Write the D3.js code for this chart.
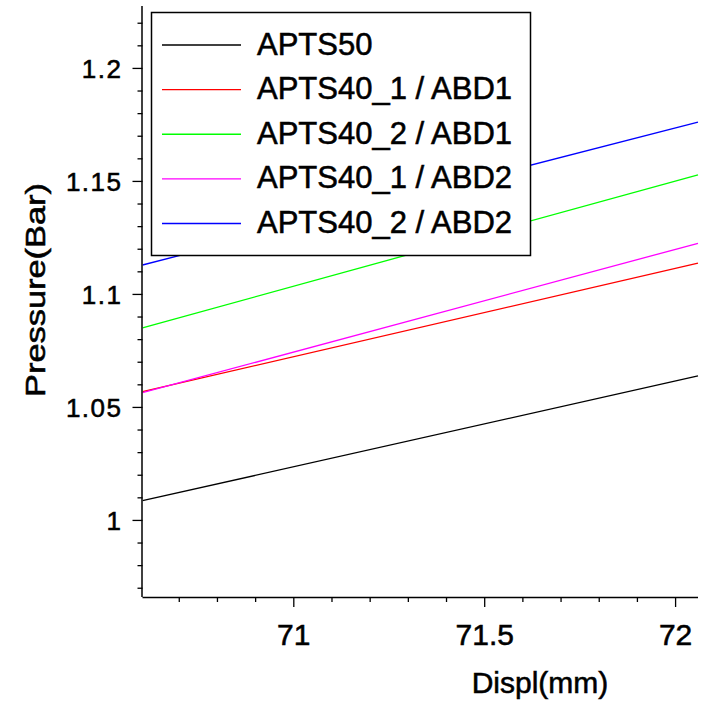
<!DOCTYPE html>
<html>
<head>
<meta charset="utf-8">
<script src="https://cdn.jsdelivr.net/npm/d3@7"></script>
<style>
  html, body { margin: 0; padding: 0; background: #fff; }
  svg { display: block; }
  text { font-family: "Liberation Sans", Arial, sans-serif; fill: #000; stroke: #000; stroke-width: 0.55px; }
</style>
</head>
<body>
<div id="chart"></div>
<script>
// ---- data ----
const seriesNames = ["APTS50", "APTS40_1 / ABD1", "APTS40_2 / ABD1", "APTS40_1 / ABD2", "APTS40_2 / ABD2"];
const seriesColors = ["#000000", "#ff0000", "#00ff00", "#ff00ff", "#0000ff"];
const displ = [70.605, 72.06];
const apts50 = [1.0085, 1.0637];
const apts40_1_abd1 = [1.0568, 1.1136];
const apts40_2_abd1 = [1.0850, 1.1527];
const apts40_1_abd2 = [1.0563, 1.1224];
const apts40_2_abd2 = [1.1128, 1.1760];
const xTicks = [71, 71.5, 72];
const xTickLabels = ["71", "71.5", "72"];
const yTicks = [1, 1.05, 1.1, 1.15, 1.2];
const yTickLabels = ["1", "1.05", "1.1", "1.15", "1.2"];
const xDomain = [70.605, 72.06];
const yDomain = [0.9659, 1.2274];

const seriesValues = [apts50, apts40_1_abd1, apts40_2_abd1, apts40_1_abd2, apts40_2_abd2];

const W = 708, H = 702;
const L = 142.5, R = 698, T = 6, B = 597;

const svg = d3.select("#chart").append("svg").attr("width", W).attr("height", H);

const x = d3.scaleLinear().domain(xDomain).range([L, R]);
const y = d3.scaleLinear().domain(yDomain).range([B, T]);

svg.append("defs").append("clipPath").attr("id", "plotclip")
  .append("rect").attr("x", L).attr("y", T).attr("width", R - L + 2).attr("height", B - T);

// lines
const line = d3.line().x(d => x(d[0])).y(d => y(d[1]));
const g = svg.append("g").attr("clip-path", "url(#plotclip)");
seriesValues.forEach((vals, i) => {
  g.append("path")
    .datum(displ.map((d, j) => [d, vals[j]]))
    .attr("d", line)
    .attr("fill", "none")
    .attr("stroke", seriesColors[i])
    .attr("stroke-width", 1.3);
});

// minor ticks
const xMinor = d3.range(70.7, 72.05, 0.1).map(v => +v.toFixed(2)).filter(v => !xTicks.some(t => Math.abs(t - v) < 1e-6));
const yMinor = d3.range(0.97, 1.225, 0.01).map(v => +v.toFixed(3)).filter(v => !yTicks.some(t => Math.abs(t - v) < 1e-6));

// x axis
const xAxis = svg.append("g").attr("transform", `translate(0,${B})`)
  .call(d3.axisBottom(x).tickValues(xTicks).tickFormat((d, i) => xTickLabels[i]).tickSize(10).tickSizeOuter(0));
xAxis.select(".domain").attr("stroke", "#000").attr("stroke-width", 1.5).attr("d", `M${L},0.5H${R}`);
xAxis.selectAll(".tick line").attr("stroke", "#000").attr("stroke-width", 1.3);
xAxis.selectAll(".tick text").attr("font-size", 30).attr("font-family", "Liberation Sans, Arial, sans-serif").attr("y", 48).attr("dy", 0).attr("fill", "#000");
svg.append("g").attr("transform", `translate(0,${B})`)
  .call(d3.axisBottom(x).tickValues(xMinor).tickFormat("").tickSize(5).tickSizeOuter(0))
  .call(s => { s.select(".domain").remove(); s.selectAll(".tick line").attr("stroke", "#000").attr("stroke-width", 1.3); });

// y axis
const yAxis = svg.append("g").attr("transform", `translate(${L},0)`)
  .call(d3.axisLeft(y).tickValues(yTicks).tickFormat((d, i) => yTickLabels[i]).tickSize(10).tickSizeOuter(0));
yAxis.select(".domain").attr("stroke", "#000").attr("stroke-width", 1.5).attr("d", `M-0.5,${B}V${T}`);
yAxis.selectAll(".tick line").attr("stroke", "#000").attr("stroke-width", 1.3);
yAxis.selectAll(".tick text").attr("font-size", 26).attr("font-family", "Liberation Sans, Arial, sans-serif")
  .attr("x", -20).attr("dy", "0.36em").attr("letter-spacing", 1.5).attr("fill", "#000");
svg.append("g").attr("transform", `translate(${L},0)`)
  .call(d3.axisLeft(y).tickValues(yMinor).tickFormat("").tickSize(5).tickSizeOuter(0))
  .call(s => { s.select(".domain").remove(); s.selectAll(".tick line").attr("stroke", "#000").attr("stroke-width", 1.3); });

// axis titles
svg.append("text").attr("x", 540).attr("y", 693).attr("text-anchor", "middle")
  .attr("font-size", 30).text("Displ(mm)");
svg.append("text").attr("transform", "translate(45,290) rotate(-90)").attr("text-anchor", "middle")
  .attr("font-size", 28).attr("textLength", 214).attr("lengthAdjust", "spacingAndGlyphs").text("Pressure(Bar)");

// legend
const lg = svg.append("g");
lg.append("rect").attr("x", 151.5).attr("y", 12.5).attr("width", 379).attr("height", 243)
  .attr("fill", "#fff").attr("stroke", "#000").attr("stroke-width", 1.5);
const rowY = d3.scaleLinear().domain([0, 4]).range([45, 223.5]);
seriesNames.forEach((name, i) => {
  lg.append("line").attr("x1", 162).attr("x2", 241).attr("y1", rowY(i)).attr("y2", rowY(i))
    .attr("stroke", seriesColors[i]).attr("stroke-width", 1.3);
  lg.append("text").attr("x", 257).attr("y", rowY(i) + 9.5).attr("font-size", 31).attr("dy", 0).text(name);
});
</script>
</body>
</html>
